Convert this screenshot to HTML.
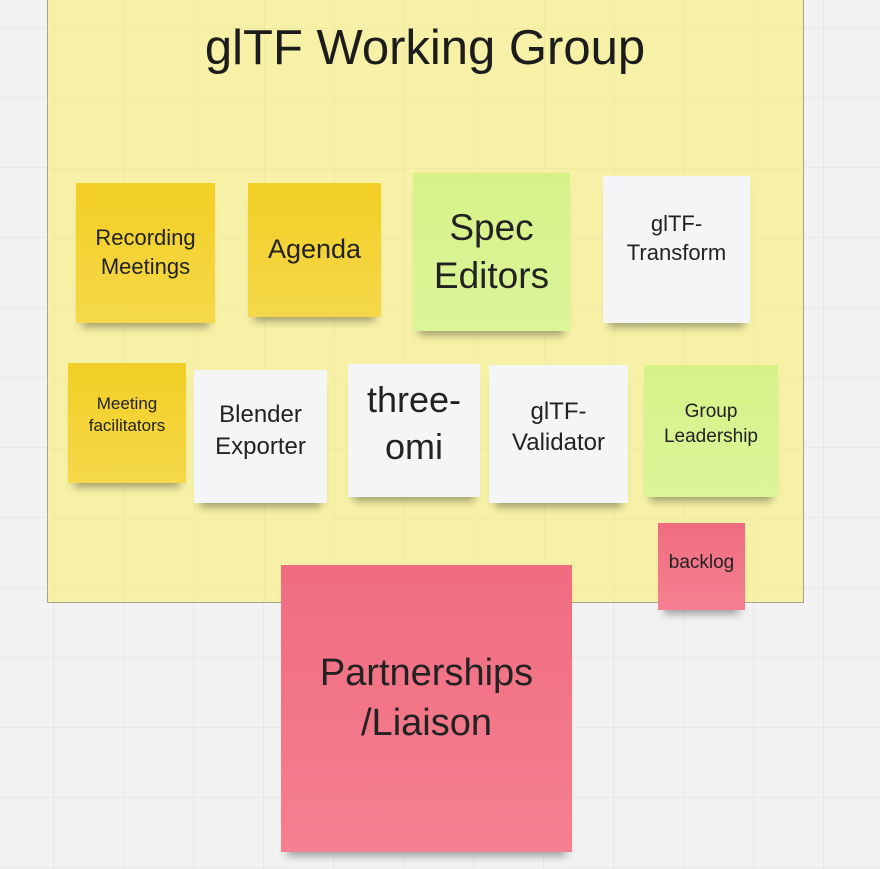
<!DOCTYPE html>
<html><head><meta charset="utf-8"><style>
html,body{margin:0;padding:0;}
body{width:880px;height:869px;overflow:hidden;position:relative;background-color:#f2f2f2;
background-image:linear-gradient(#e8e8e8 1px,transparent 1px),linear-gradient(90deg,#e8e8e8 1px,transparent 1px);
background-size:70px 70px;background-position:53px 27px;font-family:"Liberation Sans","DejaVu Sans",sans-serif;color:#222;}
.frame{position:absolute;left:47px;top:-2px;width:755px;height:603px;background-color:#f6f1a6;border:1px solid #a9a68a;
background-image:linear-gradient(rgba(0,0,0,0.025) 1px,transparent 1px),linear-gradient(90deg,rgba(0,0,0,0.025) 1px,transparent 1px);
background-size:70px 70px;background-position:6px 29px;}
.title{position:absolute;left:0;width:850px;top:20px;text-align:center;font-size:49px;color:#1c1c1c;}
.n{position:absolute;display:flex;align-items:center;justify-content:center;text-align:center;box-shadow:0 10px 8px -6px rgba(0,0,0,0.35);line-height:1.3;}
.y{background:linear-gradient(#f2cf24,#f5d84a);}
.g{background:linear-gradient(#d6f187,#dcf59a);}
.w{background:#f4f5f7;}
.p{background:linear-gradient(#f06c80,#f48090);}
</style></head><body>
<div class="frame"></div>
<div class="title">glTF Working Group</div>
<div class="n y" style="left:76px;top:183px;width:139px;height:140px;font-size:22px">Recording<br>Meetings</div>
<div class="n y" style="left:248px;top:183px;width:133px;height:134px;font-size:27px">Agenda</div>
<div class="n g" style="left:413px;top:173px;width:157px;height:158px;font-size:37px">Spec<br>Editors</div>
<div class="n w" style="left:603px;top:176px;width:147px;height:147px;font-size:22px;padding-bottom:22px;box-sizing:border-box">glTF-<br>Transform</div>
<div class="n y" style="left:68px;top:363px;width:118px;height:120px;font-size:17px;padding-bottom:16px;box-sizing:border-box">Meeting<br>facilitators</div>
<div class="n w" style="left:194px;top:370px;width:133px;height:133px;font-size:24px;padding-bottom:12px;box-sizing:border-box">Blender<br>Exporter</div>
<div class="n w" style="left:348px;top:364px;width:132px;height:133px;font-size:36px;padding-bottom:14px;box-sizing:border-box">three-<br>omi</div>
<div class="n w" style="left:489px;top:365px;width:139px;height:138px;font-size:24px;padding-bottom:14px;box-sizing:border-box">glTF-<br>Validator</div>
<div class="n g" style="left:644px;top:365px;width:134px;height:132px;font-size:19px;padding-bottom:12px;box-sizing:border-box">Group<br>Leadership</div>
<div class="n p" style="left:658px;top:523px;width:87px;height:87px;font-size:19px;padding-bottom:6px;box-sizing:border-box">backlog</div>
<div class="n p" style="left:281px;top:565px;width:291px;height:287px;font-size:38px;padding-bottom:20px;box-sizing:border-box">Partnerships<br>/Liaison</div>
</body></html>
